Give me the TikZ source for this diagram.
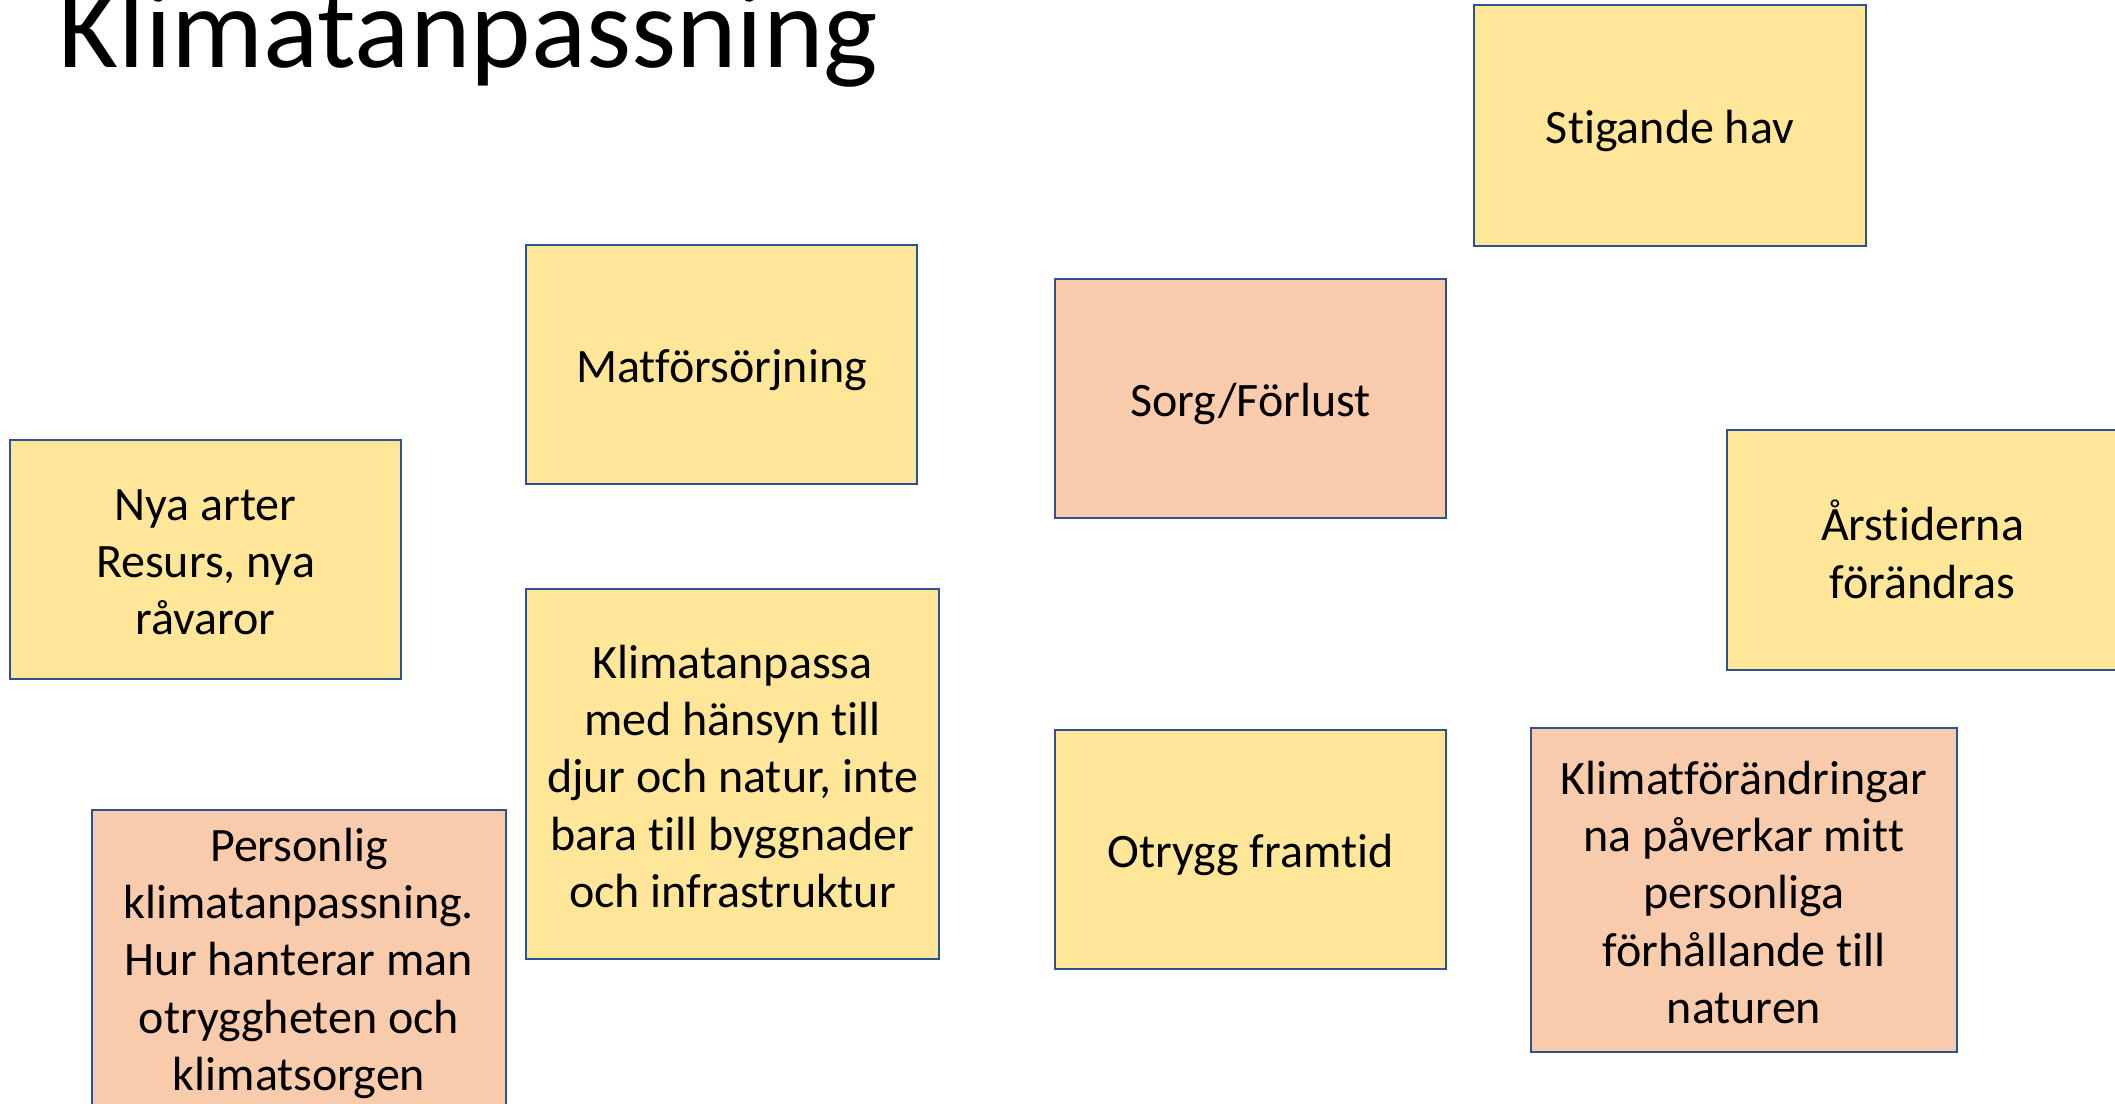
\documentclass[tikz,border=0pt]{standalone}
\usepackage{fontspec}
\setmainfont{Carlito}[Ligatures=NoCommon]
\definecolor{boxline}{HTML}{2F528F}
\definecolor{ylw}{HTML}{FFE699}
\definecolor{org}{HTML}{F8CBAD}
\tikzset{
  card/.style={draw=boxline, line width=0.6pt, rectangle, inner sep=0pt},
  ycard/.style={card, fill=ylw},
  ocard/.style={card, fill=org},
  std/.style={minimum width=97.75pt, minimum height=59.75pt},
  cardtext/.style={inner sep=0pt, align=center, font=\fontsize{12}{14.35}\selectfont, text=black},
  titletext/.style={font=\fontsize{28.8}{34}\selectfont, anchor=base west, inner sep=0pt}
}
\begin{document}
\begin{tikzpicture}[x=0.25pt, y=-0.25pt]
\useasboundingbox (0,0) rectangle (2115,1103);
\clip (0,0) rectangle (2115,1103);
\node[titletext] (title) at (58,67) {Klimatanpassning};
\node[ycard, minimum width=98pt, minimum height=60.25pt] (hav) at (1670,125.5) {};
\node[ycard, std] (mat) at (721.5,364.5) {};
\node[ocard, std] (sorg) at (1250.5,398.5) {};
\node[ycard, std] (nya) at (205.5,559.5) {};
\node[ycard, minimum width=103.25pt, minimum height=92.5pt] (anp) at (732.5,774) {};
\node[ycard, std] (otr) at (1250.5,849.5) {};
\node[ocard, minimum width=103.5pt, minimum height=74.5pt] (pers) at (299,959) {};
\node[ocard, minimum width=106.5pt, minimum height=81pt] (kf) at (1744,890) {};
\node[ycard, minimum width=97.75pt, minimum height=60pt] (ars) at (1922.5,550) {};
\node[cardtext] (havt) at ([yshift=-1.4pt]hav.center) {Stigande hav};
\node[cardtext] (matt) at ([yshift=-1.4pt]mat.center) {Matförsörjning};
\node[cardtext] (sorgt) at ([yshift=-1.4pt]sorg.center) {Sorg/Förlust};
\node[cardtext] (nyat) at ([yshift=-0.7pt]nya.center) {Nya arter\\Resurs, nya\\råvaror};
\node[cardtext] (anpt) at ([yshift=-0.6pt]anp.center) {Klimatanpassa\\med hänsyn till\\djur och natur, inte\\bara till byggnader\\och infrastruktur};
\node[cardtext] (otrt) at ([yshift=-1.4pt]otr.center) {Otrygg framtid};
\node[cardtext] (perst) at ([yshift=-1.1pt]pers.center) {Personlig\\klimatanpassning.\\Hur hanterar man\\otryggheten och\\klimatsorgen};
\node[cardtext] (kft) at ([yshift=-0.6pt]kf.center) {Klimatförändringar\\na påverkar mitt\\personliga\\förhållande till\\naturen};
\node[cardtext] (arst) at ([yshift=0.2pt]ars.center) {Årstiderna\\förändras};
\end{tikzpicture}
\end{document}
